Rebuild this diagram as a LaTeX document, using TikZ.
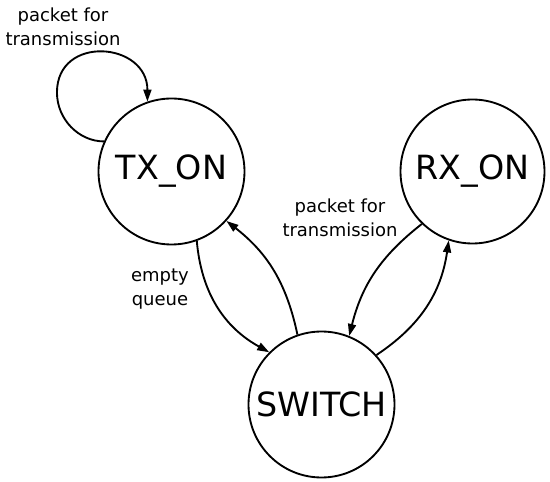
\documentclass[tikz,border=0pt]{standalone}
\usepackage{fontspec}
\setmainfont{DejaVu Sans}
\usetikzlibrary{arrows.meta}
\begin{document}
\begin{tikzpicture}[x=0.75pt,y=0.75pt,
  state/.style={draw,circle,line width=1.4pt,inner sep=0pt,minimum size=109.5pt,font=\fontsize{25}{30}\selectfont},
  trans/.style={line width=1.4pt,-{Triangle[length=9pt,width=6pt]}},
  lbl/.style={align=center,font=\fontsize{13.5}{18}\selectfont}]
\useasboundingbox (0,0) rectangle (550,482);
\node[state] (tx) at (171.5,310.5) {TX\_ON};
\node[state,minimum size=108pt] (rx) at (472.5,310.5) {RX\_ON};
\node[state] (sw) at (321.5,77.5) {SWITCH};
% self loop on TX_ON
\draw[trans] (tx.156) .. controls +(-25,0) and +(0,-27) .. +(-47,49)
  .. controls +(0,58) and +(0,60) .. (tx.109);
\draw[trans] (tx.-70) to[bend right=28] (sw.135);
\draw[trans] (sw.109) to[bend right=20] (tx.-42);
\draw[trans] (rx.-134) to[bend right=19] (sw.68);
\draw[trans] (sw.42) to[bend right=24] (rx.-109);
\node[lbl] (lloop) at (63,455) {packet for\\transmission};
\node[lbl] (lempty) at (160,193) {empty\\queue};
\node[lbl] (lrx) at (340,264) {packet for\\transmission};
\end{tikzpicture}
\end{document}
